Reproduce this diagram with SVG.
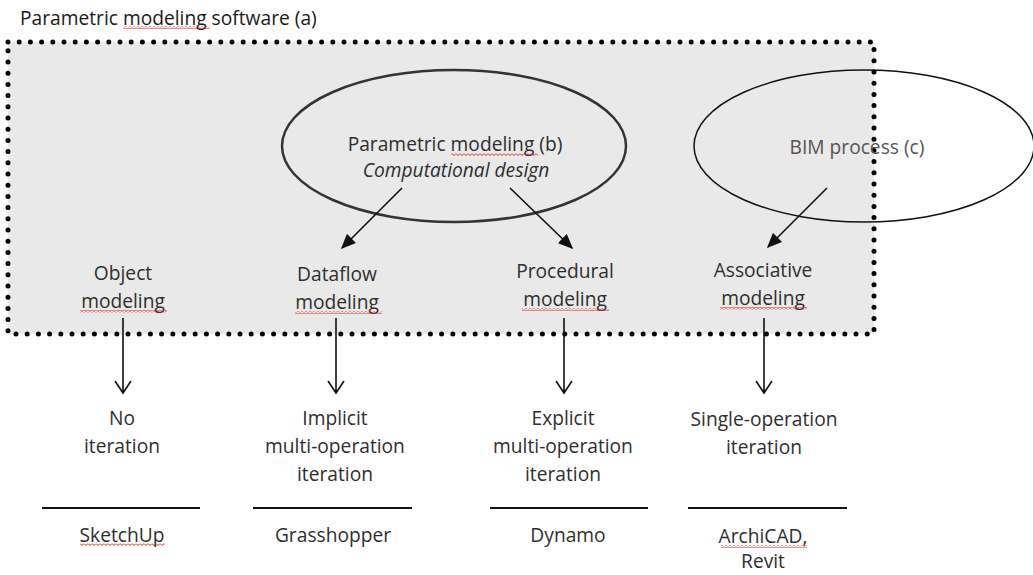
<svg xmlns="http://www.w3.org/2000/svg" width="1033" height="575" viewBox="0 0 1033 575">
<defs>
<style>
.t{font-family:"Open Sans","Liberation Sans",sans-serif;font-size:19.2px;fill:#2e2e2e;text-anchor:middle}
.title{font-family:"Open Sans","Liberation Sans",sans-serif;font-size:19.2px;fill:#1a1a1a}
.ln{stroke:#111;stroke-width:1.6;fill:none}
.sep{stroke:#111;stroke-width:2;fill:none}
.sq{fill:url(#squig)}
</style>
<pattern id="squig" width="4" height="3" patternUnits="userSpaceOnUse">
<path d="M0,0.5 L2,2.5 L4,0.5" stroke="#e02020" stroke-width="1" fill="none"/>
</pattern>
<marker id="fillbig" viewBox="0 0 10 10" refX="9" refY="5" markerWidth="15" markerHeight="13" markerUnits="userSpaceOnUse" orient="auto" preserveAspectRatio="none">
<path d="M0,0 L10,5 L0,10 z" fill="#111"/>
</marker>
</defs>
<rect width="1033" height="575" fill="#fff"/>

<g id="software">
<text class="title" x="20" y="25">Parametric modeling software (a)</text>
<rect class="sq" x="123" y="26" width="87" height="3"/>
<rect x="8" y="42" width="866" height="292" fill="#e9e9e9"/>
<rect x="8" y="42" width="866" height="292" fill="none" stroke="#000" stroke-width="5" stroke-linecap="round" stroke-dasharray="0 11.2"/>
</g>

<g id="parametric">
<ellipse cx="454" cy="146" rx="172" ry="76" fill="none" stroke="#333" stroke-width="2.5"/>
<text class="t" x="455" y="151">Parametric modeling (b)</text>
<rect class="sq" x="451" y="153" width="87" height="3"/>
<text class="t" x="456" y="177" font-style="italic">Computational design</text>
</g>

<g id="bim">
<ellipse cx="864" cy="146" rx="170" ry="76" fill="none" stroke="#111" stroke-width="1.5"/>
<text class="t" x="857" y="154" style="fill:#555">BIM process (c)</text>
</g>

<g id="object">
<text class="t" x="123" y="280">Object</text>
<text class="t" x="123" y="308">modeling</text>
<rect class="sq" x="80" y="310" width="87" height="3"/>
</g>
<g id="dataflow">
<text class="t" x="337" y="281">Dataflow</text>
<text class="t" x="337" y="309">modeling</text>
<rect class="sq" x="295" y="311" width="87" height="3"/>
</g>
<g id="procedural">
<text class="t" x="565" y="278">Procedural</text>
<text class="t" x="565" y="306">modeling</text>
<rect class="sq" x="522" y="308" width="87" height="3"/>
</g>
<g id="associative">
<text class="t" x="763" y="277">Associative</text>
<text class="t" x="763" y="305">modeling</text>
<rect class="sq" x="720" y="307" width="87" height="3"/>
</g>

<g id="no-iteration">
<text class="t" x="122" y="425">No</text>
<text class="t" x="122" y="453">iteration</text>
</g>
<g id="implicit">
<text class="t" x="335" y="425">Implicit</text>
<text class="t" x="335" y="453">multi-operation</text>
<text class="t" x="335" y="481">iteration</text>
</g>
<g id="explicit">
<text class="t" x="563" y="425">Explicit</text>
<text class="t" x="563" y="453">multi-operation</text>
<text class="t" x="563" y="481">iteration</text>
</g>
<g id="single">
<text class="t" x="764" y="426">Single-operation</text>
<text class="t" x="764" y="454">iteration</text>
</g>

<g id="sketchup">
<line class="sep" x1="42" y1="508" x2="200" y2="508"/>
<text class="t" x="122" y="542">SketchUp</text>
<rect class="sq" x="80" y="543" width="85" height="3"/>
</g>
<g id="grasshopper">
<line class="sep" x1="253" y1="508" x2="412" y2="508"/>
<text class="t" x="333" y="542">Grasshopper</text>
</g>
<g id="dynamo">
<line class="sep" x1="490" y1="508" x2="648" y2="508"/>
<text class="t" x="568" y="542">Dynamo</text>
</g>
<g id="archicad">
<line class="sep" x1="688" y1="508" x2="847" y2="508"/>
<text class="t" x="763" y="543">ArchiCAD,</text>
<rect class="sq" x="721" y="545" width="86" height="3"/>
<text class="t" x="763" y="568">Revit</text>
</g>

<g id="connectors">
<line class="ln" x1="402" y1="188" x2="342" y2="248" marker-end="url(#fillbig)"/>
<line class="ln" x1="510" y1="188" x2="572" y2="248" marker-end="url(#fillbig)"/>
<line class="ln" x1="827" y1="188" x2="768" y2="247" marker-end="url(#fillbig)"/>
<path class="ln" d="M123,318 V393 M115,381 L123,393 L131,381"/>
<path class="ln" d="M336,318 V393 M328,381 L336,393 L344,381"/>
<path class="ln" d="M564,318 V393 M556,381 L564,393 L572,381"/>
<path class="ln" d="M764,318 V393 M756,381 L764,393 L772,381"/>
</g>
</svg>
